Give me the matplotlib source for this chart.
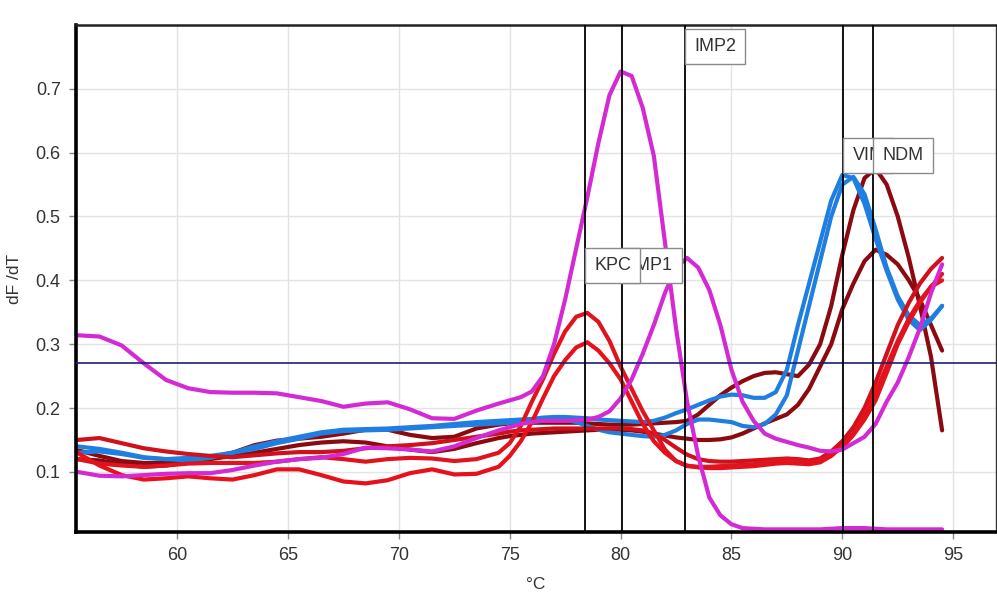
import matplotlib
matplotlib.use("Agg")
import matplotlib.pyplot as plt

# temperaturas (°C) em que as curvas foram lidas
temperaturas = [55.5, 56.5, 57.5, 58.5, 59.5, 60.5, 61.5, 62.5, 63.5, 64.5,
                65.5, 66.5, 67.5, 68.5, 69.5, 70.5, 71.5, 72.5, 73.5, 74.5,
                75, 75.5, 76, 76.5, 77, 77.5, 78, 78.5, 79, 79.5,
                80, 80.5, 81, 81.5, 82, 82.5, 83, 83.5, 84, 84.5,
                85, 85.5, 86, 86.5, 87, 87.5, 88, 88.5, 89, 89.5,
                90, 90.5, 91, 91.5, 92, 92.5, 93, 93.5, 94, 94.5]

# curvas dF/dT
magenta_pico80 = [0.314, 0.312, 0.298, 0.270, 0.244, 0.231, 0.225, 0.224, 0.224, 0.223,
                  0.217, 0.211, 0.202, 0.207, 0.209, 0.198, 0.184, 0.183, 0.196, 0.207,
                  0.212, 0.217, 0.226, 0.250, 0.300, 0.370, 0.450, 0.530, 0.615, 0.690,
                  0.727, 0.720, 0.670, 0.595, 0.460, 0.325, 0.210, 0.125, 0.060, 0.032,
                  0.018, 0.012, 0.011, 0.010, 0.010, 0.010, 0.010, 0.010, 0.010, 0.011,
                  0.012, 0.012, 0.012, 0.011, 0.010, 0.010, 0.010, 0.010, 0.010, 0.010]
magenta_pico83 = [0.100, 0.094, 0.093, 0.095, 0.097, 0.098, 0.098, 0.103, 0.110, 0.116,
                  0.120, 0.122, 0.128, 0.138, 0.137, 0.135, 0.132, 0.140, 0.153, 0.165,
                  0.170, 0.175, 0.178, 0.180, 0.180, 0.180, 0.181, 0.182, 0.186, 0.195,
                  0.215, 0.245, 0.285, 0.330, 0.380, 0.420, 0.435, 0.420, 0.385, 0.330,
                  0.260, 0.210, 0.180, 0.160, 0.152, 0.147, 0.142, 0.138, 0.133, 0.132,
                  0.135, 0.145, 0.155, 0.175, 0.210, 0.240, 0.280, 0.325, 0.380, 0.425]
azul_1 = [0.140, 0.136, 0.130, 0.123, 0.120, 0.118, 0.122, 0.130, 0.140, 0.148,
          0.155, 0.162, 0.166, 0.167, 0.168, 0.170, 0.172, 0.175, 0.178, 0.180,
          0.181, 0.182, 0.183, 0.185, 0.186, 0.186, 0.185, 0.184, 0.182, 0.181,
          0.180, 0.179, 0.178, 0.180, 0.185, 0.192, 0.198, 0.205, 0.212, 0.218,
          0.221, 0.220, 0.216, 0.216, 0.225, 0.260, 0.330, 0.395, 0.460, 0.525,
          0.565, 0.560, 0.520, 0.465, 0.415, 0.370, 0.338, 0.322, 0.338, 0.360]
azul_2 = [0.130, 0.132, 0.128, 0.122, 0.120, 0.122, 0.125, 0.130, 0.136, 0.145,
          0.152, 0.160, 0.164, 0.165, 0.166, 0.168, 0.170, 0.172, 0.174, 0.176,
          0.177, 0.178, 0.180, 0.182, 0.183, 0.182, 0.178, 0.172, 0.166, 0.162,
          0.160, 0.158, 0.156, 0.155, 0.158, 0.165, 0.175, 0.182, 0.182, 0.180,
          0.178, 0.172, 0.170, 0.175, 0.190, 0.220, 0.290, 0.360, 0.430, 0.500,
          0.550, 0.562, 0.535, 0.480, 0.420, 0.375, 0.345, 0.330, 0.340, 0.360]
vinho_1 = [0.134, 0.125, 0.117, 0.114, 0.114, 0.117, 0.123, 0.130, 0.142, 0.149,
           0.152, 0.155, 0.160, 0.166, 0.166, 0.158, 0.153, 0.155, 0.168, 0.174,
           0.176, 0.177, 0.177, 0.177, 0.177, 0.177, 0.177, 0.176, 0.175, 0.174,
           0.174, 0.174, 0.175, 0.176, 0.177, 0.178, 0.180, 0.190, 0.205, 0.220,
           0.232, 0.242, 0.250, 0.255, 0.256, 0.253, 0.250, 0.268, 0.300, 0.360,
           0.440, 0.510, 0.560, 0.575, 0.550, 0.500, 0.435, 0.360, 0.280, 0.165]
vinho_2 = [0.120, 0.118, 0.112, 0.108, 0.110, 0.115, 0.120, 0.125, 0.130, 0.136,
           0.142, 0.146, 0.148, 0.146, 0.140, 0.135, 0.131, 0.136, 0.145, 0.153,
           0.156, 0.158, 0.160, 0.161, 0.162, 0.163, 0.164, 0.165, 0.166, 0.166,
           0.166, 0.165, 0.163, 0.160, 0.157, 0.154, 0.152, 0.150, 0.150, 0.151,
           0.154, 0.160, 0.168, 0.176, 0.183, 0.190, 0.205, 0.230, 0.265, 0.300,
           0.355, 0.395, 0.430, 0.448, 0.440, 0.425, 0.400, 0.370, 0.330, 0.290]
vermelho_1 = [0.120, 0.113, 0.110, 0.108, 0.110, 0.113, 0.114, 0.114, 0.114, 0.116,
              0.120, 0.123, 0.120, 0.116, 0.120, 0.122, 0.121, 0.117, 0.120, 0.130,
              0.145, 0.172, 0.210, 0.245, 0.285, 0.320, 0.343, 0.349, 0.335, 0.305,
              0.265, 0.230, 0.195, 0.165, 0.135, 0.117, 0.109, 0.108, 0.108, 0.109,
              0.110, 0.111, 0.112, 0.115, 0.118, 0.120, 0.118, 0.115, 0.118, 0.128,
              0.138, 0.158, 0.182, 0.212, 0.255, 0.300, 0.335, 0.365, 0.390, 0.410]
vermelho_2 = [0.130, 0.110, 0.095, 0.088, 0.090, 0.093, 0.090, 0.088, 0.095, 0.104,
              0.104, 0.095, 0.085, 0.082, 0.087, 0.098, 0.104, 0.096, 0.097, 0.108,
              0.125, 0.148, 0.178, 0.215, 0.250, 0.275, 0.295, 0.303, 0.290, 0.270,
              0.245, 0.210, 0.175, 0.148, 0.130, 0.117, 0.110, 0.107, 0.106, 0.106,
              0.107, 0.108, 0.109, 0.111, 0.113, 0.114, 0.113, 0.112, 0.115, 0.125,
              0.140, 0.160, 0.190, 0.225, 0.265, 0.305, 0.340, 0.368, 0.390, 0.400]
vermelho_3 = [0.150, 0.153, 0.145, 0.137, 0.132, 0.128, 0.125, 0.123, 0.126, 0.129,
              0.131, 0.131, 0.133, 0.137, 0.140, 0.142, 0.145, 0.150, 0.155, 0.160,
              0.163, 0.165, 0.166, 0.167, 0.168, 0.168, 0.168, 0.168, 0.168, 0.168,
              0.168, 0.167, 0.165, 0.160, 0.150, 0.138, 0.127, 0.120, 0.117, 0.116,
              0.116, 0.117, 0.118, 0.119, 0.120, 0.121, 0.120, 0.118, 0.121, 0.132,
              0.148, 0.170, 0.200, 0.240, 0.285, 0.330, 0.365, 0.395, 0.418, 0.435]

# linhas de referência (Tm de cada gene)
genes = ["IMP1", "KPC", "IMP2", "VIM", "NDM"]
tm_genes = [80.05, 78.4, 82.9, 90.05, 91.4]
topo_rotulos = [0.45, 0.45, 0.793, 0.623, 0.623]
limiar = 0.27

curvas = [
    (vinho_2, "#8b0a0f"),
    (vinho_1, "#8b0a0f"),
    (azul_2, "#1f7fe0"),
    (azul_1, "#1f7fe0"),
    (vermelho_3, "#d0101a"),
    (vermelho_2, "#e8101a"),
    (vermelho_1, "#e0141e"),
    (magenta_pico83, "#d42ad4"),
    (magenta_pico80, "#d42ad4"),
]

plt.rcParams['font.family'] = ['Liberation Sans', 'DejaVu Sans']

fig = plt.figure(figsize=(9.97, 5.97), dpi=100)
ax = fig.add_axes([0.0762, 0.109, 0.923, 0.849])

for valores, cor in curvas:
    ax.plot(temperaturas, valores, color=cor, linewidth=3.0,
            solid_capstyle='round', zorder=2)

ax.axhline(limiar, color="#1c1c78", linewidth=1.2, zorder=3)
for tm in tm_genes:
    ax.axvline(tm, color="black", linewidth=1.3, zorder=3)

# caixas dos rótulos: borda esquerda encostada na linha vertical
tamanho_fonte = 13
pad = 0.5
desloc = pad * tamanho_fonte
for i, (gene, tm, topo) in enumerate(zip(genes, tm_genes, topo_rotulos)):
    ax.annotate(gene, xy=(tm, topo), xytext=(desloc, -desloc),
                textcoords="offset points", fontsize=tamanho_fonte,
                color="#333333", ha="left", va="top", zorder=5 + i,
                bbox=dict(boxstyle="square,pad=%.2f" % pad, facecolor="white",
                          edgecolor="#8a8a8a", linewidth=1.0))

ax.set_xlim(55.44, 96.94)
ax.set_ylim(0.006, 0.7997)
ax.set_xticks([60, 65, 70, 75, 80, 85, 90, 95])
ax.set_yticks([0.1, 0.2, 0.3, 0.4, 0.5, 0.6, 0.7])
ax.grid(True, color="#e3e3e3", linewidth=1.0, zorder=0)
ax.set_axisbelow(True)

ax.tick_params(axis="both", labelsize=13, colors="#333333", length=5, pad=6,
               width=1.0)
ax.tick_params(axis="both", color="#888888")

ax.spines["left"].set_linewidth(2.6)
ax.spines["bottom"].set_linewidth(2.6)
ax.spines["left"].set_color("black")
ax.spines["bottom"].set_color("black")
ax.spines["top"].set_linewidth(1.8)
ax.spines["right"].set_linewidth(1.0)
ax.spines["top"].set_color("#222222")
ax.spines["right"].set_color("#333333")

ax.set_xlabel("°C", fontsize=12.5, color="#333333", labelpad=9)
ax.set_ylabel("dF /dT", fontsize=12.5, color="#333333", labelpad=10)

fig.savefig("out.png", dpi=100)
